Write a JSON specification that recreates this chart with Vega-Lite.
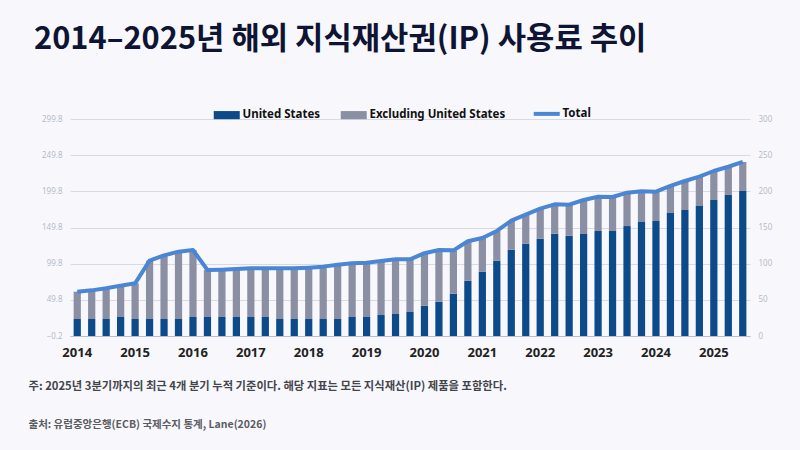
{
  "$schema": "https://vega.github.io/schema/vega-lite/v6.json",
  "width": 680,
  "height": 217,
  "autosize": {"type": "none"},
  "padding": {"left": 70, "top": 119, "right": 50, "bottom": 114},
  "background": "#f8f8fc",
  "config": {"view": {"stroke": null}, "font": "Noto Sans"},
  "title": {
    "text": "2014–2025년 해외 지식재산권(IP) 사용료 추이",
    "anchor": "start",
    "frame": "group",
    "dx": -36,
    "offset": 52,
    "font": "Noto Sans CJK KR",
    "fontSize": 30.8,
    "fontWeight": "bold",
    "color": "#0e1433"
  },
  "data": {
    "values": [
      {"q": "2014-Q1", "us": 23.5, "exus": 37.8, "total": 61.3},
      {"q": "2014-Q2", "us": 23.5, "exus": 39.6, "total": 63.1},
      {"q": "2014-Q3", "us": 23.5, "exus": 42.4, "total": 65.9},
      {"q": "2014-Q4", "us": 26.3, "exus": 43.3, "total": 69.6},
      {"q": "2015-Q1", "us": 23.5, "exus": 49.3, "total": 72.8},
      {"q": "2015-Q2", "us": 23.5, "exus": 80.6, "total": 104.1},
      {"q": "2015-Q3", "us": 23.5, "exus": 88.0, "total": 111.5},
      {"q": "2015-Q4", "us": 23.5, "exus": 93.1, "total": 116.6},
      {"q": "2016-Q1", "us": 26.3, "exus": 92.6, "total": 118.9},
      {"q": "2016-Q2", "us": 26.3, "exus": 64.9, "total": 91.2},
      {"q": "2016-Q3", "us": 26.3, "exus": 65.4, "total": 91.7},
      {"q": "2016-Q4", "us": 26.3, "exus": 66.3, "total": 92.6},
      {"q": "2017-Q1", "us": 26.3, "exus": 67.2, "total": 93.5},
      {"q": "2017-Q2", "us": 26.3, "exus": 67.2, "total": 93.5},
      {"q": "2017-Q3", "us": 23.5, "exus": 70.0, "total": 93.5},
      {"q": "2017-Q4", "us": 23.5, "exus": 70.0, "total": 93.5},
      {"q": "2018-Q1", "us": 23.5, "exus": 71.0, "total": 94.5},
      {"q": "2018-Q2", "us": 23.5, "exus": 72.4, "total": 95.9},
      {"q": "2018-Q3", "us": 23.5, "exus": 75.1, "total": 98.6},
      {"q": "2018-Q4", "us": 26.3, "exus": 74.2, "total": 100.5},
      {"q": "2019-Q1", "us": 26.3, "exus": 75.1, "total": 101.4},
      {"q": "2019-Q2", "us": 29.0, "exus": 74.7, "total": 103.7},
      {"q": "2019-Q3", "us": 30.4, "exus": 75.6, "total": 106.0},
      {"q": "2019-Q4", "us": 33.2, "exus": 72.8, "total": 106.0},
      {"q": "2020-Q1", "us": 41.7, "exus": 72.8, "total": 114.5},
      {"q": "2020-Q2", "us": 47.5, "exus": 71.4, "total": 118.9},
      {"q": "2020-Q3", "us": 58.3, "exus": 60.1, "total": 118.4},
      {"q": "2020-Q4", "us": 76.3, "exus": 54.6, "total": 130.9},
      {"q": "2021-Q1", "us": 88.7, "exus": 46.8, "total": 135.5},
      {"q": "2021-Q2", "us": 103.9, "exus": 41.3, "total": 145.2},
      {"q": "2021-Q3", "us": 119.2, "exus": 40.2, "total": 159.4},
      {"q": "2021-Q4", "us": 127.4, "exus": 40.3, "total": 167.7},
      {"q": "2022-Q1", "us": 134.4, "exus": 41.6, "total": 176.0},
      {"q": "2022-Q2", "us": 141.3, "exus": 40.7, "total": 182.0},
      {"q": "2022-Q3", "us": 138.5, "exus": 43.1, "total": 181.6},
      {"q": "2022-Q4", "us": 141.0, "exus": 47.0, "total": 188.0},
      {"q": "2023-Q1", "us": 145.2, "exus": 47.4, "total": 192.6},
      {"q": "2023-Q2", "us": 145.2, "exus": 47.0, "total": 192.2},
      {"q": "2023-Q3", "us": 152.0, "exus": 46.2, "total": 198.2},
      {"q": "2023-Q4", "us": 157.6, "exus": 42.4, "total": 200.0},
      {"q": "2024-Q1", "us": 159.0, "exus": 40.5, "total": 199.5},
      {"q": "2024-Q2", "us": 170.0, "exus": 37.4, "total": 207.4},
      {"q": "2024-Q3", "us": 174.2, "exus": 40.1, "total": 214.3},
      {"q": "2024-Q4", "us": 179.7, "exus": 40.6, "total": 220.3},
      {"q": "2025-Q1", "us": 188.0, "exus": 40.1, "total": 228.1},
      {"q": "2025-Q2", "us": 195.0, "exus": 39.0, "total": 234.0},
      {"q": "2025-Q3", "us": 200.5, "exus": 40.1, "total": 240.6}
    ]
  },
  "resolve": {"axis": {"x": "independent", "y": "independent"}},
  "layer": [
    {
      "transform": [{"fold": ["us", "exus"], "as": ["series", "value"]}],
      "mark": {"type": "bar"},
      "encoding": {
        "x": {
          "field": "q",
          "type": "ordinal",
          "scale": {"paddingInner": 0.5, "paddingOuter": 0.25},
          "axis": {
            "orient": "bottom",
            "labelExpr": "indexof(datum.value, 'Q1') > 0 ? slice(datum.value, 0, 4) : ''",
            "labelAngle": 0,
            "labelFont": "Noto Sans",
            "labelFontSize": 13,
            "labelFontWeight": "bold",
            "labelColor": "#222222",
            "labelPadding": 10,
            "ticks": false,
            "domainColor": "#b9bdca",
            "title": "주: 2025년 3분기까지의 최근 4개 분기 누적 기준이다. 해당 지표는 모든 지식재산(IP) 제품을 포함한다.",
            "titleFont": "Noto Sans CJK KR",
            "titleFontSize": 11.3,
            "titleFontWeight": "bold",
            "titleColor": "#44444c",
            "titleAnchor": "start",
            "titleAlign": "left",
            "titleBaseline": "middle",
            "titleX": -42,
            "titleY": 50
          }
        },
        "y": {
          "field": "value",
          "type": "quantitative",
          "stack": "zero",
          "scale": {"domain": [0, 300]},
          "axis": {
            "orient": "left",
            "values": [0, 50, 100, 150, 200, 250, 300],
            "labelExpr": "format(datum.value - 0.2, '.1f')",
            "labelFontSize": 8,
            "labelColor": "#b6bac8",
            "labelPadding": 8,
            "ticks": false,
            "domain": false,
            "grid": true,
            "gridColor": "#d8dae3",
            "title": null
          }
        },
        "color": {
          "field": "series",
          "type": "nominal",
          "scale": {"domain": ["us", "exus", "total"], "range": ["#0c4a8a", "#8b8fa4", "#4a86d4"]},
          "legend": {
            "orient": "none",
            "legendX": 151,
            "legendY": -11,
            "direction": "horizontal",
            "title": null,
            "labelExpr": "datum.value === 'us' ? 'United States' : datum.value === 'exus' ? 'Excluding United States' : 'Total'",
            "labelFont": "Noto Sans",
            "labelFontSize": 11.5,
            "labelFontWeight": "bold",
            "labelColor": "#111111",
            "labelOffset": 10,
            "columnPadding": 19,
            "symbolSize": 264,
            "encode": {
              "symbols": {
                "update": {
                  "shape": {"signal": "datum.value === 'total' ? 'M-1.6,0H1.6' : 'M-1.6,-0.5H1.6V0.5H-1.6Z'"},
                  "fill": {"signal": "datum.value === 'total' ? 'transparent' : scale('color', datum.value)"},
                  "stroke": {"signal": "datum.value === 'total' ? scale('color', datum.value) : 'transparent'"},
                  "strokeWidth": {"signal": "datum.value === 'total' ? 4 : 0"},
                  "opacity": {"value": 1}
                }
              }
            }
          }
        },
        "order": {"field": "series", "sort": "descending"}
      }
    },
    {
      "mark": {"type": "line", "strokeWidth": 4, "strokeJoin": "round"},
      "encoding": {
        "x": {
          "field": "q",
          "type": "ordinal",
          "axis": {
            "orient": "bottom",
            "labels": false,
            "ticks": false,
            "domain": false,
            "grid": false,
            "title": "출처: 유럽중앙은행(ECB) 국제수지 통계, Lane(2026)",
            "titleFont": "Noto Sans CJK KR",
            "titleFontSize": 10.5,
            "titleFontWeight": "bold",
            "titleColor": "#5a5b63",
            "titleAnchor": "start",
            "titleAlign": "left",
            "titleBaseline": "middle",
            "titleX": -42,
            "titleY": 88
          }
        },
        "y": {
          "field": "total",
          "type": "quantitative",
          "scale": {"domain": [0, 300]},
          "axis": {
            "orient": "right",
            "values": [0, 50, 100, 150, 200, 250, 300],
            "labelFontSize": 8,
            "labelColor": "#b6bac8",
            "labelPadding": 8,
            "ticks": false,
            "domain": false,
            "grid": false,
            "title": null
          }
        },
        "color": {"datum": "total"}
      }
    }
  ]
}
